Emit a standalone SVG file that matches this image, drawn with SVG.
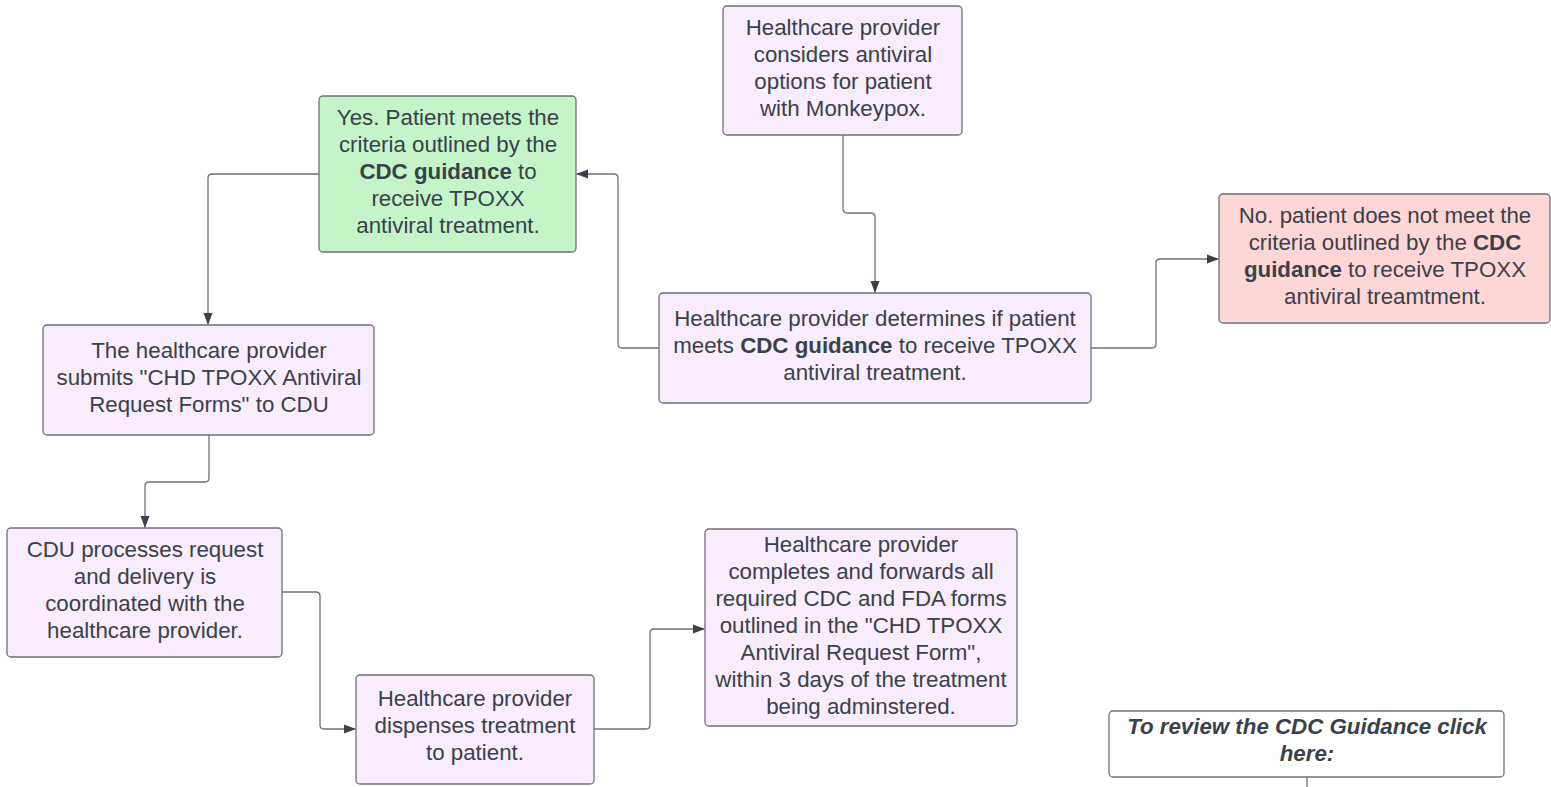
<svg xmlns="http://www.w3.org/2000/svg" width="1551" height="787" viewBox="0 0 1551 787">
<defs>
<marker id="arr" markerWidth="12" markerHeight="10" refX="11" refY="5" orient="auto" markerUnits="userSpaceOnUse">
<path d="M0,0.5 L12,5 L0,9.5 Z" fill="#3a414a"/>
</marker>
<style>
.n{fill:#f8ecfd;stroke:#6f6f78;stroke-width:1.3}
.g{fill:#c3f5c8;stroke:#6f6f78;stroke-width:1.3}
.r{fill:#ffd6d6;stroke:#6f6f78;stroke-width:1.3}
.w{fill:#ffffff;stroke:#6f6f78;stroke-width:1.3}
text{font-family:"Liberation Sans",Arial,sans-serif;font-size:22.3px;fill:#3a414a;text-anchor:middle;dominant-baseline:central}
.b{font-weight:bold}
.bi{font-weight:bold;font-style:italic}
.c{fill:none;stroke:#6f6f78;stroke-width:1.3}
</style>
</defs>
<rect width="1551" height="787" fill="#ffffff"/>
<g id="connectors">
<path class="c" d="M843,135 V209 Q843,213 847,213 H871 Q875,213 875,217 V292" marker-end="url(#arr)"/>
<path class="c" d="M659,348 H622 Q618,348 618,344 V178 Q618,174 614,174 H577" marker-end="url(#arr)"/>
<path class="c" d="M1091,348 H1152 Q1156,348 1156,344 V263 Q1156,259 1160,259 H1218" marker-end="url(#arr)"/>
<path class="c" d="M319,174 H212 Q208,174 208,178 V324" marker-end="url(#arr)"/>
<path class="c" d="M209,435 V478 Q209,482 205,482 H149 Q145,482 145,486 V527" marker-end="url(#arr)"/>
<path class="c" d="M282,592 H316 Q320,592 320,596 V725 Q320,729 324,729 H355" marker-end="url(#arr)"/>
<path class="c" d="M594,729 H646 Q650,729 650,725 V633 Q650,629 654,629 H704" marker-end="url(#arr)"/>
<path class="c" d="M1307,777 V787"/>
</g>
<g id="n1">
<rect class="n" x="723" y="6" width="239" height="129" rx="4"/>
<text x="843" y="27">Healthcare provider</text>
<text x="843" y="54">considers antiviral</text>
<text x="843" y="81">options for patient</text>
<text x="843" y="108">with Monkeypox.</text>
</g>
<g id="n2">
<rect class="g" x="319" y="96" width="257" height="156" rx="4"/>
<text x="448" y="117">Yes. Patient meets the</text>
<text x="448" y="144">criteria outlined by the</text>
<text x="448" y="171"><tspan class="b">CDC guidance</tspan> to</text>
<text x="448" y="198">receive TPOXX</text>
<text x="448" y="225">antiviral treatment.</text>
</g>
<g id="n3">
<rect class="n" x="659" y="293" width="432" height="110" rx="4"/>
<text x="875" y="318">Healthcare provider determines if patient</text>
<text x="875" y="345">meets <tspan class="b">CDC guidance</tspan> to receive TPOXX</text>
<text x="875" y="372">antiviral treatment.</text>
</g>
<g id="n4">
<rect class="r" x="1219" y="194" width="331" height="129" rx="4"/>
<text x="1385" y="215">No. patient does not meet the</text>
<text x="1385" y="242">criteria outlined by the <tspan class="b">CDC</tspan></text>
<text x="1385" y="269"><tspan class="b">guidance</tspan> to receive TPOXX</text>
<text x="1385" y="296">antiviral treamtment.</text>
</g>
<g id="n5">
<rect class="n" x="43" y="325" width="331" height="110" rx="4"/>
<text x="209" y="350">The healthcare provider</text>
<text x="209" y="377">submits "CHD TPOXX Antiviral</text>
<text x="209" y="404">Request Forms" to CDU</text>
</g>
<g id="n6">
<rect class="n" x="7" y="528" width="275" height="129" rx="4"/>
<text x="145" y="549">CDU processes request</text>
<text x="145" y="576">and delivery is</text>
<text x="145" y="603">coordinated with the</text>
<text x="145" y="630">healthcare provider.</text>
</g>
<g id="n7">
<rect class="n" x="356" y="675" width="238" height="109" rx="4"/>
<text x="475" y="698">Healthcare provider</text>
<text x="475" y="725">dispenses treatment</text>
<text x="475" y="752">to patient.</text>
</g>
<g id="n8">
<rect class="n" x="705" y="529" width="312" height="197" rx="4"/>
<text x="861" y="544">Healthcare provider</text>
<text x="861" y="571">completes and forwards all</text>
<text x="861" y="598">required CDC and FDA forms</text>
<text x="861" y="625">outlined in the "CHD TPOXX</text>
<text x="861" y="652">Antiviral Request Form",</text>
<text x="861" y="679">within 3 days of the treatment</text>
<text x="861" y="706">being adminstered.</text>
</g>
<g id="n9">
<rect class="w" x="1109" y="711" width="395" height="66" rx="4"/>
<text class="bi" x="1307" y="726">To review the CDC Guidance click</text>
<text class="bi" x="1307" y="753">here:</text>
</g>
</svg>
